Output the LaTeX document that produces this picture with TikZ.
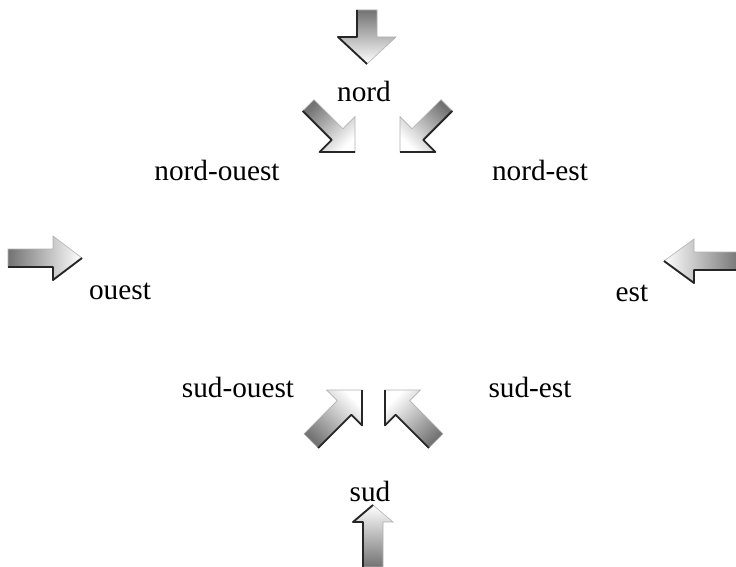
\documentclass[tikz,border=0pt]{standalone}
\usepackage{fontspec}
\setmainfont{Liberation Serif}
\newcommand{\blockarr}[8]{%
  % #1,#2 tip (px), #3 angle, #4 L, #5 h, #6 H, #7 w, #8 shadow side
  \pgfmathsetmacro{\shang}{#3+90}%
  \begin{scope}[shift={(#1,#2)}, rotate=#3]
    \path[draw=black!30, line width=0.5pt, top color=black!55, bottom color=white, shading angle=\shang]
      (-#4,-#7) -- (-#5,-#7) -- (-#5,-#6) -- (0,0) -- (-#5,#6) -- (-#5,#7) -- (-#4,#7) -- cycle;
    \draw[black!85, line width=1.6pt, line join=round]
      (-#4,#8*#7) -- (-#5,#8*#7) -- (-#5,#8*#6) -- (0,0);
  \end{scope}}
\tikzset{lbl/.style={font=\fontsize{25}{29}\selectfont, inner sep=0pt}}
\begin{document}
\begin{tikzpicture}[x=0.03cm, y=-0.03cm]
\useasboundingbox (0,0) rectangle (736,567);
% arrows
\blockarr{367}{64}{-90}{54}{27}{29}{10}{1}
\blockarr{355}{152}{-45}{66}{25}{25}{8}{1}
\blockarr{400}{152}{-135}{66}{25}{25}{8}{-1}
\blockarr{82}{258}{0}{74}{29}{22}{9}{1}
\blockarr{664}{261}{180}{76}{30}{22}{9}{-1}
\blockarr{362}{390}{45}{72}{25}{25}{10}{1}
\blockarr{385}{390}{135}{72}{25}{25}{10}{-1}
\blockarr{373}{505}{90}{62}{17}{20}{10}{-1}
% labels
\node[lbl] (n)  at (364,91)  {nord};
\node[lbl] (nw) at (217,170) {nord-ouest};
\node[lbl] (ne) at (540,170) {nord-est};
\node[lbl] (w)  at (120,291) {ouest};
\node[lbl] (e)  at (632,293) {est};
\node[lbl] (sw) at (238,387) {sud-ouest};
\node[lbl] (se) at (530,387) {sud-est};
\node[lbl] (s)  at (370,491) {sud};
\end{tikzpicture}
\end{document}
